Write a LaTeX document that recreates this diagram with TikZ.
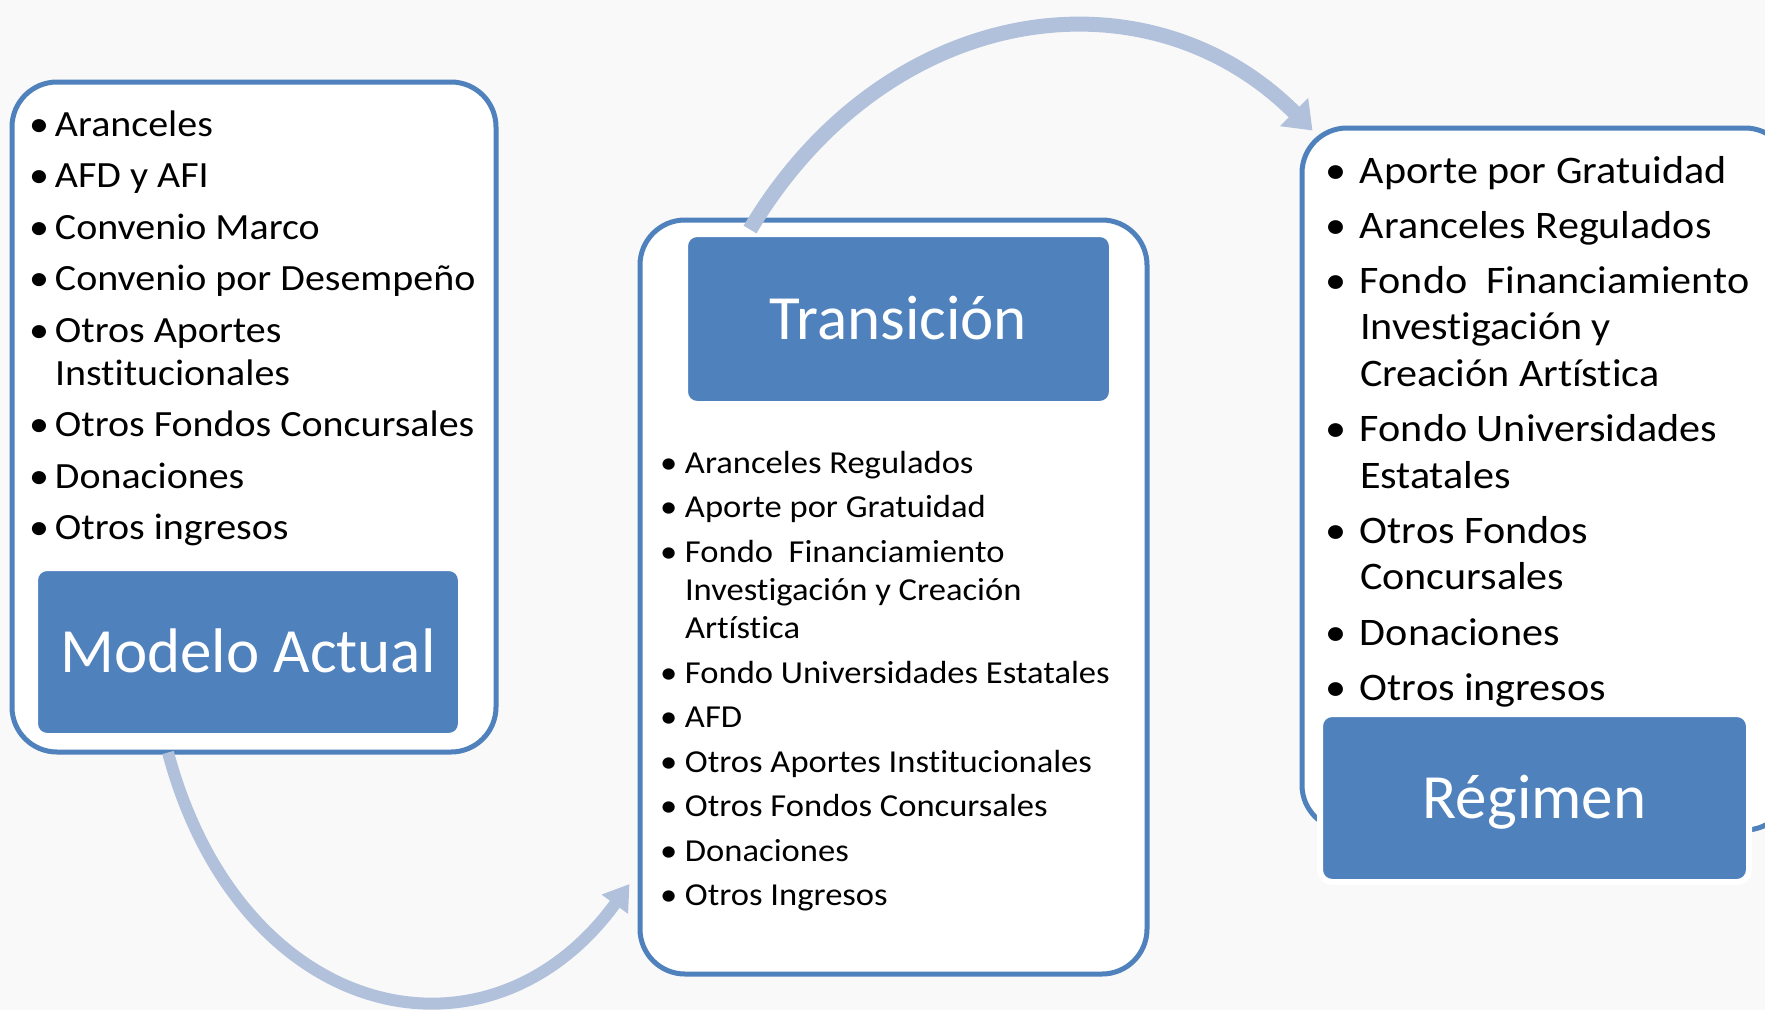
\documentclass[tikz,border=0pt]{standalone}
\usepackage{fontspec}
\setmainfont[Ligatures=NoCommon]{Carlito}
\newfontfamily\listfont[FakeStretch=1.08,Ligatures=NoCommon]{Carlito}
\usetikzlibrary{arrows.meta}
\definecolor{boxblue}{HTML}{4F81BD}
\definecolor{arrowblue}{HTML}{B1C1DB}
\definecolor{bgcol}{HTML}{F9F9F9}
\newlength\bulw
\newlength\itemgap
\newcommand\li[1]{\hbox{\makebox[\bulw][l]{•}#1}}
\newcommand\lc[1]{\hbox{\hspace*{\bulw}#1}}
\newcommand\gap{\vskip\itemgap}
\newcommand\listsetup[4]{\listfont\fontsize{#1}{#2}\selectfont\setlength\bulw{#3}\setlength\itemgap{#4}}
\tikzset{
  outerbox/.style={draw=boxblue, line width=5pt, fill=white, rounded corners=45pt, inner sep=0pt},
  titlebox/.style={draw=white, line width=6pt, fill=boxblue, rounded corners=12pt, text=white,
    font=\fontsize{63pt}{75pt}\selectfont, text height=40.5pt, text depth=0pt, inner sep=0pt},
  listnode/.style={anchor=base west, inner sep=0pt, outer sep=0pt, text=black},
  flow/.style={draw=arrowblue, line cap=butt}
}
\begin{document}
\begin{tikzpicture}[x=1pt,y=-1pt]
\useasboundingbox (0,0) rectangle (1765,1010);
\clip (0,0) rectangle (1765,1010);
\fill[bgcol] (0,0) rectangle (1765,1010);

% outer boxes
\node[outerbox, minimum width=484pt, minimum height=670pt] (leftbox) at (254,417) {};
\node[outerbox, minimum width=507pt, minimum height=754pt] (midbox) at (893.5,597) {};
\node[outerbox, minimum width=488pt, minimum height=702pt] (rightbox) at (1546,479) {};

% title boxes
\node[titlebox, minimum width=426pt, minimum height=168pt] (modelo) at (248,652) {Modelo Actual};
\node[titlebox, minimum width=427pt, minimum height=170pt] (trans) at (898.5,319) {Transición};
\node[titlebox, minimum width=429pt, minimum height=168pt] (regimen) at (1534.5,798) {Régimen};

% lists
\node[listnode] (leftlist) at (29,136) {\vtop{\listsetup{37pt}{43pt}{26pt}{8.5pt}%
  \li{Aranceles}\gap
  \li{AFD y AFI}\gap
  \li{Convenio Marco}\gap
  \li{Convenio por Desempeño}\gap
  \li{Otros Aportes}
  \lc{Institucionales}\gap
  \li{Otros Fondos Concursales}\gap
  \li{Donaciones}\gap
  \li{Otros ingresos}}};

\node[listnode] (midlist) at (660,473) {\vtop{\listsetup{32pt}{38.3pt}{25pt}{6.2pt}%
  \li{Aranceles Regulados}\gap
  \li{Aporte por Gratuidad}\gap
  \li{Fondo\ \ Financiamiento}
  \lc{Investigación y Creación}
  \lc{Artística}\gap
  \li{Fondo Universidades Estatales}\gap
  \li{AFD}\gap
  \li{Otros Aportes Institucionales}\gap
  \li{Otros Fondos Concursales}\gap
  \li{Donaciones}\gap
  \li{Otros Ingresos}}};

\node[listnode] (rightlist) at (1325,183) {\vtop{\listsetup{39pt}{46.5pt}{35pt}{8.7pt}%
  \li{Aporte por Gratuidad}\gap
  \li{Aranceles Regulados}\gap
  \li{Fondo\ \ Financiamiento}
  \lc{Investigación y}
  \lc{Creación Artística}\gap
  \li{Fondo Universidades}
  \lc{Estatales}\gap
  \li{Otros Fondos}
  \lc{Concursales}\gap
  \li{Donaciones}\gap
  \li{Otros ingresos}}};

% connector end points
\coordinate (a1s) at ([shift={(-86,-2)}]leftbox.south);
\coordinate (a1e) at ([shift={(-8,287)}]midbox.west);
\coordinate (a2s) at ([shift={(-143.5,12)}]midbox.north);
\coordinate (a2e) at ([shift={(13,5)}]rightbox.north west);

% arrows
\draw[flow, line width=12pt, -{Triangle[length=25pt,width=31pt]}]
  (a1s) .. controls +(72.5,270.5) and +(-141,194) .. (a1e);
\draw[flow, line width=15pt, -{Triangle[length=26pt,width=38pt]}]
  (a2s) .. controls +(135,-227) and +(-167,-167) .. (a2e);
\end{tikzpicture}
\end{document}
